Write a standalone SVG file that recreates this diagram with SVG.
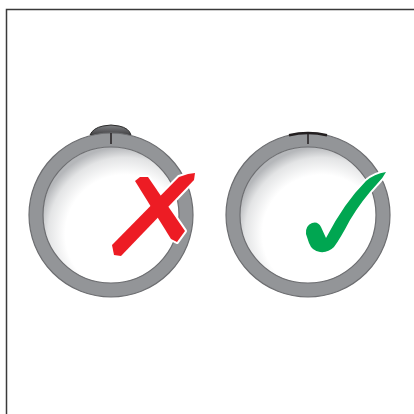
<svg xmlns="http://www.w3.org/2000/svg" width="414" height="414" viewBox="0 0 414 414">
<style>
.frame{fill:none;stroke:#3a3a3a;stroke-width:1.5}
.ring{fill:none;stroke:#939598;stroke-width:14}
.edge{fill:none;stroke:#6d6e71;stroke-width:1.2}
.tick{stroke:#231f20;stroke-width:1.5}
.halo{fill:#fff;stroke:#fff;stroke-width:4;stroke-linejoin:round}
</style>
<defs>
<radialGradient id="face" cx="0.6" cy="0.64" r="0.64">
<stop offset="0.68" stop-color="#ffffff"/>
<stop offset="0.88" stop-color="#e3e4e5"/>
<stop offset="1" stop-color="#b5b7ba"/>
</radialGradient>
<linearGradient id="cap" x1="0" y1="0" x2="0" y2="1">
<stop offset="0" stop-color="#808285"/>
<stop offset="1" stop-color="#414042"/>
</linearGradient>
<path id="x1" d="M135 181 L140 177 L148 177 L185 231 L177 242 L171 239 Z"/>
<path id="x2" d="M179 177 L188 174 L195 173 L194 180 L121 256 L114 255 L112 245 Z"/>
<path id="ck" d="M306 234 Q305 226 312 223 Q318 221 321 227 L326 238 Q344 203 366 181 Q374 174 386 172 Q383 178 377 184 Q362 200 350 220 Q340 239 334 247 Q328 253 320 252 Q312 251 309 243 Z"/>
</defs>
<rect width="414" height="414" fill="#fff"/>
<path class="frame" d="M6.5 414 V9.5 H414"/>
<g id="wrong">
<path d="M90 135 Q93 128 103 126 Q111 124 119 126 Q129 128 131 135 Z" fill="url(#cap)" stroke="#2b2b2b" stroke-width="1"/>
<circle cx="111" cy="215" r="68" fill="url(#face)"/>
<circle class="ring" cx="111" cy="215" r="75"/>
<circle class="edge" cx="111" cy="215" r="82"/>
<circle class="edge" cx="111" cy="215" r="68"/>
<line class="tick" x1="111" y1="133" x2="111" y2="144"/>
<use href="#x1" class="halo"/>
<use href="#x2" class="halo"/>
<use href="#x1" fill="#ed1c24"/>
<use href="#x2" fill="#ed1c24"/>
</g>
<g id="right">
<circle cx="308" cy="215" r="68" fill="url(#face)"/>
<circle class="ring" cx="308" cy="215" r="75"/>
<circle class="edge" cx="308" cy="215" r="82"/>
<circle class="edge" cx="308" cy="215" r="68"/>
<path d="M289 135.2 A82 82 0 0 1 327 135.2" fill="none" stroke="#231f20" stroke-width="2.5"/>
<line class="tick" x1="308" y1="133" x2="308" y2="144"/>
<use href="#ck" class="halo"/>
<use href="#ck" fill="#00a651"/>
</g>
</svg>
